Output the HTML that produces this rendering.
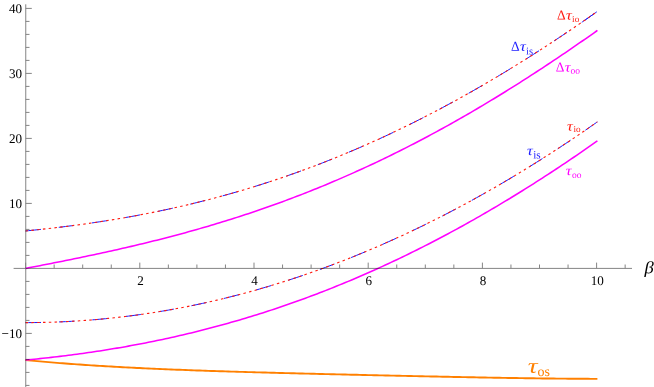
<!DOCTYPE html>
<html><head><meta charset="utf-8"><style>
html,body{margin:0;padding:0;background:#fff;}
svg{display:block;will-change:transform;font-family:"Liberation Serif",serif;}
</style></head><body>
<svg width="654" height="387" viewBox="0 0 654 387">
<rect width="654" height="387" fill="#fff"/>
<path d="M25.60 360.06 L28.46 360.34 L31.31 360.61 L34.17 360.88 L37.02 361.14 L39.88 361.40 L42.73 361.65 L45.59 361.90 L48.44 362.14 L51.30 362.38 L54.15 362.62 L57.01 362.85 L59.86 363.08 L62.72 363.30 L65.57 363.52 L68.43 363.74 L71.28 363.95 L74.14 364.16 L76.99 364.36 L79.84 364.56 L82.70 364.76 L85.56 364.95 L88.41 365.14 L91.27 365.33 L94.12 365.52 L96.97 365.70 L99.83 365.88 L102.69 366.05 L105.54 366.22 L108.40 366.39 L111.25 366.56 L114.11 366.72 L116.96 366.88 L119.81 367.04 L122.67 367.19 L125.53 367.35 L128.38 367.50 L131.24 367.64 L134.09 367.79 L136.95 367.93 L139.80 368.07 L142.66 368.21 L145.51 368.34 L148.37 368.48 L151.22 368.61 L154.07 368.74 L156.93 368.86 L159.78 368.99 L162.64 369.11 L165.50 369.23 L168.35 369.35 L171.21 369.47 L174.06 369.58 L176.92 369.70 L179.77 369.81 L182.62 369.92 L185.48 370.03 L188.34 370.13 L191.19 370.24 L194.05 370.34 L196.90 370.45 L199.76 370.55 L202.61 370.65 L205.47 370.75 L208.32 370.84 L211.18 370.94 L214.03 371.03 L216.88 371.13 L219.74 371.22 L222.59 371.31 L225.45 371.40 L228.31 371.49 L231.16 371.58 L234.02 371.67 L236.87 371.75 L239.72 371.84 L242.58 371.92 L245.44 372.00 L248.29 372.09 L251.15 372.17 L254.00 372.25 L256.86 372.33 L259.71 372.41 L262.57 372.49 L265.42 372.57 L268.28 372.64 L271.13 372.72 L273.99 372.80 L276.84 372.87 L279.70 372.95 L282.55 373.02 L285.41 373.09 L288.26 373.17 L291.12 373.24 L293.97 373.31 L296.83 373.38 L299.68 373.46 L302.54 373.53 L305.39 373.60 L308.25 373.67 L311.10 373.74 L313.96 373.81 L316.81 373.88 L319.67 373.95 L322.52 374.01 L325.38 374.08 L328.23 374.15 L331.09 374.22 L333.94 374.29 L336.80 374.35 L339.65 374.42 L342.51 374.49 L345.36 374.55 L348.22 374.62 L351.07 374.68 L353.93 374.75 L356.78 374.82 L359.64 374.88 L362.49 374.95 L365.35 375.01 L368.20 375.08 L371.06 375.14 L373.91 375.21 L376.77 375.27 L379.62 375.33 L382.48 375.40 L385.33 375.46 L388.19 375.53 L391.04 375.59 L393.90 375.65 L396.75 375.71 L399.61 375.78 L402.46 375.84 L405.32 375.90 L408.17 375.97 L411.03 376.03 L413.88 376.09 L416.74 376.15 L419.59 376.21 L422.45 376.27 L425.30 376.33 L428.16 376.39 L431.01 376.45 L433.87 376.51 L436.72 376.57 L439.58 376.63 L442.43 376.69 L445.29 376.75 L448.14 376.81 L451.00 376.87 L453.85 376.93 L456.71 376.98 L459.56 377.04 L462.42 377.10 L465.27 377.15 L468.13 377.21 L470.98 377.27 L473.84 377.32 L476.69 377.37 L479.55 377.43 L482.40 377.48 L485.26 377.53 L488.11 377.59 L490.97 377.64 L493.82 377.69 L496.68 377.74 L499.53 377.79 L502.38 377.84 L505.24 377.88 L508.10 377.93 L510.95 377.98 L513.81 378.02 L516.66 378.07 L519.51 378.11 L522.37 378.16 L525.23 378.20 L528.08 378.24 L530.93 378.28 L533.79 378.32 L536.65 378.36 L539.50 378.39 L542.36 378.43 L545.21 378.46 L548.07 378.50 L550.92 378.53 L553.78 378.56 L556.63 378.59 L559.49 378.62 L562.34 378.65 L565.20 378.67 L568.05 378.70 L570.91 378.72 L573.76 378.74 L576.62 378.76 L579.47 378.78 L582.33 378.79 L585.18 378.81 L588.04 378.82 L590.89 378.83 L593.75 378.84 L596.60 378.85 L597.40 378.85" fill="none" stroke="#ff8000" stroke-width="1.9"/>
<path d="M25.60 360.07 L28.46 359.79 L31.31 359.51 L34.17 359.23 L37.02 358.94 L39.88 358.64 L42.73 358.34 L45.59 358.03 L48.44 357.71 L51.30 357.39 L54.15 357.06 L57.01 356.72 L59.86 356.38 L62.72 356.04 L65.57 355.68 L68.43 355.32 L71.28 354.95 L74.14 354.58 L76.99 354.20 L79.84 353.81 L82.70 353.41 L85.56 353.01 L88.41 352.60 L91.27 352.19 L94.12 351.77 L96.97 351.34 L99.83 350.90 L102.69 350.46 L105.54 350.00 L108.40 349.55 L111.25 349.08 L114.11 348.61 L116.96 348.13 L119.81 347.64 L122.67 347.14 L125.53 346.64 L128.38 346.13 L131.24 345.61 L134.09 345.08 L136.95 344.55 L139.80 344.01 L142.66 343.46 L145.51 342.90 L148.37 342.34 L151.22 341.77 L154.07 341.18 L156.93 340.60 L159.78 340.00 L162.64 339.39 L165.50 338.78 L168.35 338.16 L171.21 337.53 L174.06 336.89 L176.92 336.25 L179.77 335.59 L182.62 334.93 L185.48 334.26 L188.34 333.58 L191.19 332.90 L194.05 332.20 L196.90 331.50 L199.76 330.78 L202.61 330.06 L205.47 329.33 L208.32 328.59 L211.18 327.85 L214.03 327.09 L216.88 326.33 L219.74 325.55 L222.59 324.77 L225.45 323.98 L228.31 323.18 L231.16 322.37 L234.02 321.56 L236.87 320.73 L239.72 319.90 L242.58 319.05 L245.44 318.20 L248.29 317.34 L251.15 316.47 L254.00 315.59 L256.86 314.70 L259.71 313.80 L262.57 312.89 L265.42 311.98 L268.28 311.05 L271.13 310.12 L273.99 309.17 L276.84 308.22 L279.70 307.26 L282.55 306.29 L285.41 305.31 L288.26 304.32 L291.12 303.32 L293.97 302.31 L296.83 301.29 L299.68 300.27 L302.54 299.23 L305.39 298.18 L308.25 297.13 L311.10 296.06 L313.96 294.99 L316.81 293.91 L319.67 292.81 L322.52 291.71 L325.38 290.60 L328.23 289.48 L331.09 288.35 L333.94 287.21 L336.80 286.06 L339.65 284.90 L342.51 283.73 L345.36 282.55 L348.22 281.36 L351.07 280.17 L353.93 278.96 L356.78 277.74 L359.64 276.52 L362.49 275.28 L365.35 274.03 L368.20 272.78 L371.06 271.51 L373.91 270.24 L376.77 268.96 L379.62 267.66 L382.48 266.36 L385.33 265.05 L388.19 263.72 L391.04 262.39 L393.90 261.05 L396.75 259.70 L399.61 258.34 L402.46 256.97 L405.32 255.59 L408.17 254.20 L411.03 252.80 L413.88 251.39 L416.74 249.97 L419.59 248.54 L422.45 247.10 L425.30 245.65 L428.16 244.19 L431.01 242.73 L433.87 241.25 L436.72 239.76 L439.58 238.27 L442.43 236.76 L445.29 235.25 L448.14 233.72 L451.00 232.19 L453.85 230.64 L456.71 229.09 L459.56 227.52 L462.42 225.95 L465.27 224.37 L468.13 222.78 L470.98 221.17 L473.84 219.56 L476.69 217.94 L479.55 216.31 L482.40 214.67 L485.26 213.02 L488.11 211.36 L490.97 209.70 L493.82 208.02 L496.68 206.33 L499.53 204.63 L502.38 202.93 L505.24 201.21 L508.10 199.49 L510.95 197.75 L513.81 196.01 L516.66 194.26 L519.51 192.49 L522.37 190.72 L525.23 188.94 L528.08 187.15 L530.93 185.35 L533.79 183.54 L536.65 181.72 L539.50 179.90 L542.36 178.06 L545.21 176.21 L548.07 174.36 L550.92 172.50 L553.78 170.62 L556.63 168.74 L559.49 166.85 L562.34 164.95 L565.20 163.04 L568.05 161.12 L570.91 159.20 L573.76 157.26 L576.62 155.31 L579.47 153.36 L582.33 151.40 L585.18 149.43 L588.04 147.45 L590.89 145.46 L593.75 143.46 L596.60 141.45 L597.42 140.88" fill="none" stroke="#ff00ff" stroke-width="1.55"/>
<path d="M25.60 268.40 L28.46 267.85 L31.31 267.30 L34.17 266.75 L37.02 266.20 L39.88 265.64 L42.73 265.09 L45.59 264.53 L48.44 263.97 L51.30 263.41 L54.15 262.84 L57.01 262.28 L59.86 261.71 L62.72 261.14 L65.57 260.56 L68.43 259.98 L71.28 259.40 L74.14 258.82 L76.99 258.24 L79.84 257.65 L82.70 257.05 L85.56 256.46 L88.41 255.86 L91.27 255.26 L94.12 254.65 L96.97 254.04 L99.83 253.42 L102.69 252.80 L105.54 252.18 L108.40 251.55 L111.25 250.92 L114.11 250.29 L116.96 249.64 L119.81 249.00 L122.67 248.35 L125.53 247.69 L128.38 247.03 L131.24 246.37 L134.09 245.70 L136.95 245.02 L139.80 244.34 L142.66 243.65 L145.51 242.96 L148.37 242.26 L151.22 241.56 L154.07 240.85 L156.93 240.13 L159.78 239.41 L162.64 238.68 L165.50 237.95 L168.35 237.21 L171.21 236.46 L174.06 235.71 L176.92 234.95 L179.77 234.19 L182.62 233.41 L185.48 232.63 L188.34 231.85 L191.19 231.05 L194.05 230.26 L196.90 229.45 L199.76 228.63 L202.61 227.81 L205.47 226.98 L208.32 226.15 L211.18 225.31 L214.03 224.46 L216.88 223.60 L219.74 222.73 L222.59 221.86 L225.45 220.98 L228.31 220.09 L231.16 219.19 L234.02 218.29 L236.87 217.38 L239.72 216.46 L242.58 215.53 L245.44 214.59 L248.29 213.65 L251.15 212.70 L254.00 211.74 L256.86 210.77 L259.71 209.79 L262.57 208.81 L265.42 207.81 L268.28 206.81 L271.13 205.80 L273.99 204.78 L276.84 203.75 L279.70 202.71 L282.55 201.67 L285.41 200.61 L288.26 199.55 L291.12 198.48 L293.97 197.40 L296.83 196.31 L299.68 195.21 L302.54 194.10 L305.39 192.99 L308.25 191.86 L311.10 190.73 L313.96 189.58 L316.81 188.43 L319.67 187.27 L322.52 186.10 L325.38 184.92 L328.23 183.73 L331.09 182.53 L333.94 181.32 L336.80 180.11 L339.65 178.88 L342.51 177.64 L345.36 176.40 L348.22 175.14 L351.07 173.88 L353.93 172.61 L356.78 171.33 L359.64 170.03 L362.49 168.73 L365.35 167.42 L368.20 166.10 L371.06 164.77 L373.91 163.43 L376.77 162.09 L379.62 160.73 L382.48 159.36 L385.33 157.98 L388.19 156.60 L391.04 155.20 L393.90 153.80 L396.75 152.38 L399.61 150.96 L402.46 149.53 L405.32 148.08 L408.17 146.63 L411.03 145.17 L413.88 143.70 L416.74 142.22 L419.59 140.73 L422.45 139.23 L425.30 137.72 L428.16 136.20 L431.01 134.67 L433.87 133.14 L436.72 131.59 L439.58 130.03 L442.43 128.47 L445.29 126.89 L448.14 125.31 L451.00 123.72 L453.85 122.12 L456.71 120.50 L459.56 118.88 L462.42 117.25 L465.27 115.61 L468.13 113.97 L470.98 112.31 L473.84 110.64 L476.69 108.97 L479.55 107.28 L482.40 105.59 L485.26 103.89 L488.11 102.18 L490.97 100.46 L493.82 98.73 L496.68 96.99 L499.53 95.25 L502.38 93.49 L505.24 91.73 L508.10 89.96 L510.95 88.17 L513.81 86.39 L516.66 84.59 L519.51 82.78 L522.37 80.97 L525.23 79.14 L528.08 77.31 L530.93 75.47 L533.79 73.62 L536.65 71.77 L539.50 69.90 L542.36 68.03 L545.21 66.15 L548.07 64.26 L550.92 62.37 L553.78 60.46 L556.63 58.55 L559.49 56.63 L562.34 54.70 L565.20 52.77 L568.05 50.83 L570.91 48.88 L573.76 46.92 L576.62 44.95 L579.47 42.98 L582.33 41.00 L585.18 39.02 L588.04 37.02 L590.89 35.02 L593.75 33.02 L596.60 31.00 L597.42 30.43" fill="none" stroke="#ff00ff" stroke-width="1.55"/>
<path d="M25.60 322.61 L28.46 322.60 L31.31 322.59 L34.17 322.56 L37.02 322.53 L39.88 322.48 L42.73 322.43 L45.59 322.36 L48.44 322.29 L51.30 322.20 L54.15 322.11 L57.01 322.00 L59.86 321.89 L62.72 321.76 L65.57 321.63 L68.43 321.48 L71.28 321.33 L74.14 321.16 L76.99 320.99 L79.84 320.80 L82.70 320.61 L85.56 320.40 L88.41 320.19 L91.27 319.96 L94.12 319.73 L96.97 319.48 L99.83 319.23 L102.69 318.96 L105.54 318.69 L108.40 318.40 L111.25 318.11 L114.11 317.80 L116.96 317.48 L119.81 317.16 L122.67 316.82 L125.53 316.48 L128.38 316.12 L131.24 315.76 L134.09 315.38 L136.95 315.00 L139.80 314.60 L142.66 314.20 L145.51 313.78 L148.37 313.36 L151.22 312.92 L154.07 312.47 L156.93 312.02 L159.78 311.55 L162.64 311.08 L165.50 310.59 L168.35 310.10 L171.21 309.59 L174.06 309.08 L176.92 308.55 L179.77 308.02 L182.62 307.47 L185.48 306.91 L188.34 306.35 L191.19 305.77 L194.05 305.19 L196.90 304.59 L199.76 303.99 L202.61 303.37 L205.47 302.75 L208.32 302.11 L211.18 301.46 L214.03 300.81 L216.88 300.14 L219.74 299.47 L222.59 298.78 L225.45 298.09 L228.31 297.38 L231.16 296.66 L234.02 295.94 L236.87 295.20 L239.72 294.46 L242.58 293.70 L245.44 292.94 L248.29 292.16 L251.15 291.37 L254.00 290.58 L256.86 289.77 L259.71 288.96 L262.57 288.13 L265.42 287.29 L268.28 286.45 L271.13 285.59 L273.99 284.73 L276.84 283.85 L279.70 282.97 L282.55 282.07 L285.41 281.16 L288.26 280.25 L291.12 279.32 L293.97 278.39 L296.83 277.44 L299.68 276.48 L302.54 275.52 L305.39 274.54 L308.25 273.56 L311.10 272.56 L313.96 271.55 L316.81 270.54 L319.67 269.51 L322.52 268.48 L325.38 267.43 L328.23 266.37 L331.09 265.31 L333.94 264.23 L336.80 263.15 L339.65 262.05 L342.51 260.94 L345.36 259.83 L348.22 258.70 L351.07 257.57 L353.93 256.42 L356.78 255.26 L359.64 254.10 L362.49 252.92 L365.35 251.73 L368.20 250.54 L371.06 249.33 L373.91 248.12 L376.77 246.89 L379.62 245.65 L382.48 244.41 L385.33 243.15 L388.19 241.88 L391.04 240.61 L393.90 239.32 L396.75 238.03 L399.61 236.72 L402.46 235.40 L405.32 234.08 L408.17 232.74 L411.03 231.39 L413.88 230.04 L416.74 228.67 L419.59 227.29 L422.45 225.91 L425.30 224.51 L428.16 223.11 L431.01 221.69 L433.87 220.26 L436.72 218.83 L439.58 217.38 L442.43 215.92 L445.29 214.46 L448.14 212.98 L451.00 211.49 L453.85 210.00 L456.71 208.49 L459.56 206.97 L462.42 205.45 L465.27 203.91 L468.13 202.36 L470.98 200.81 L473.84 199.24 L476.69 197.67 L479.55 196.08 L482.40 194.48 L485.26 192.88 L488.11 191.26 L490.97 189.63 L493.82 188.00 L496.68 186.35 L499.53 184.69 L502.38 183.03 L505.24 181.35 L508.10 179.66 L510.95 177.97 L513.81 176.26 L516.66 174.54 L519.51 172.82 L522.37 171.08 L525.23 169.33 L528.08 167.58 L530.93 165.81 L533.79 164.03 L536.65 162.24 L539.50 160.45 L542.36 158.64 L545.21 156.82 L548.07 155.00 L550.92 153.16 L553.78 151.31 L556.63 149.46 L559.49 147.59 L562.34 145.71 L565.20 143.83 L568.05 141.93 L570.91 140.02 L573.76 138.11 L576.62 136.18 L579.47 134.24 L582.33 132.29 L585.18 130.34 L588.04 128.37 L590.89 126.39 L593.75 124.41 L596.60 122.41 L597.34 121.89" fill="none" stroke="#1a1aff" stroke-width="1.0" stroke-dasharray="15.4 18.0"/>
<path d="M25.60 322.61 L28.46 322.60 L31.31 322.59 L34.17 322.56 L37.02 322.53 L39.88 322.48 L42.73 322.43 L45.59 322.36 L48.44 322.29 L51.30 322.20 L54.15 322.11 L57.01 322.00 L59.86 321.89 L62.72 321.76 L65.57 321.63 L68.43 321.48 L71.28 321.33 L74.14 321.16 L76.99 320.99 L79.84 320.80 L82.70 320.61 L85.56 320.40 L88.41 320.19 L91.27 319.96 L94.12 319.73 L96.97 319.48 L99.83 319.23 L102.69 318.96 L105.54 318.69 L108.40 318.40 L111.25 318.11 L114.11 317.80 L116.96 317.48 L119.81 317.16 L122.67 316.82 L125.53 316.48 L128.38 316.12 L131.24 315.76 L134.09 315.38 L136.95 315.00 L139.80 314.60 L142.66 314.20 L145.51 313.78 L148.37 313.36 L151.22 312.92 L154.07 312.47 L156.93 312.02 L159.78 311.55 L162.64 311.08 L165.50 310.59 L168.35 310.10 L171.21 309.59 L174.06 309.08 L176.92 308.55 L179.77 308.02 L182.62 307.47 L185.48 306.91 L188.34 306.35 L191.19 305.77 L194.05 305.19 L196.90 304.59 L199.76 303.99 L202.61 303.37 L205.47 302.75 L208.32 302.11 L211.18 301.46 L214.03 300.81 L216.88 300.14 L219.74 299.47 L222.59 298.78 L225.45 298.09 L228.31 297.38 L231.16 296.66 L234.02 295.94 L236.87 295.20 L239.72 294.46 L242.58 293.70 L245.44 292.94 L248.29 292.16 L251.15 291.37 L254.00 290.58 L256.86 289.77 L259.71 288.96 L262.57 288.13 L265.42 287.29 L268.28 286.45 L271.13 285.59 L273.99 284.73 L276.84 283.85 L279.70 282.97 L282.55 282.07 L285.41 281.16 L288.26 280.25 L291.12 279.32 L293.97 278.39 L296.83 277.44 L299.68 276.48 L302.54 275.52 L305.39 274.54 L308.25 273.56 L311.10 272.56 L313.96 271.55 L316.81 270.54 L319.67 269.51 L322.52 268.48 L325.38 267.43 L328.23 266.37 L331.09 265.31 L333.94 264.23 L336.80 263.15 L339.65 262.05 L342.51 260.94 L345.36 259.83 L348.22 258.70 L351.07 257.57 L353.93 256.42 L356.78 255.26 L359.64 254.10 L362.49 252.92 L365.35 251.73 L368.20 250.54 L371.06 249.33 L373.91 248.12 L376.77 246.89 L379.62 245.65 L382.48 244.41 L385.33 243.15 L388.19 241.88 L391.04 240.61 L393.90 239.32 L396.75 238.03 L399.61 236.72 L402.46 235.40 L405.32 234.08 L408.17 232.74 L411.03 231.39 L413.88 230.04 L416.74 228.67 L419.59 227.29 L422.45 225.91 L425.30 224.51 L428.16 223.11 L431.01 221.69 L433.87 220.26 L436.72 218.83 L439.58 217.38 L442.43 215.92 L445.29 214.46 L448.14 212.98 L451.00 211.49 L453.85 210.00 L456.71 208.49 L459.56 206.97 L462.42 205.45 L465.27 203.91 L468.13 202.36 L470.98 200.81 L473.84 199.24 L476.69 197.67 L479.55 196.08 L482.40 194.48 L485.26 192.88 L488.11 191.26 L490.97 189.63 L493.82 188.00 L496.68 186.35 L499.53 184.69 L502.38 183.03 L505.24 181.35 L508.10 179.66 L510.95 177.97 L513.81 176.26 L516.66 174.54 L519.51 172.82 L522.37 171.08 L525.23 169.33 L528.08 167.58 L530.93 165.81 L533.79 164.03 L536.65 162.24 L539.50 160.45 L542.36 158.64 L545.21 156.82 L548.07 155.00 L550.92 153.16 L553.78 151.31 L556.63 149.46 L559.49 147.59 L562.34 145.71 L565.20 143.83 L568.05 141.93 L570.91 140.02 L573.76 138.11 L576.62 136.18 L579.47 134.24 L582.33 132.29 L585.18 130.34 L588.04 128.37 L590.89 126.39 L593.75 124.41 L596.60 122.41 L597.34 121.89" fill="none" stroke="#ff1a10" stroke-width="1.1" stroke-dasharray="2.5 3.3"/>
<path d="M25.60 230.95 L28.46 230.67 L31.31 230.38 L34.17 230.09 L37.02 229.79 L39.88 229.49 L42.73 229.18 L45.59 228.87 L48.44 228.55 L51.30 228.22 L54.15 227.89 L57.01 227.56 L59.86 227.21 L62.72 226.86 L65.57 226.51 L68.43 226.15 L71.28 225.78 L74.14 225.41 L76.99 225.03 L79.84 224.64 L82.70 224.25 L85.56 223.85 L88.41 223.44 L91.27 223.03 L94.12 222.61 L96.97 222.18 L99.83 221.75 L102.69 221.31 L105.54 220.86 L108.40 220.41 L111.25 219.95 L114.11 219.48 L116.96 219.00 L119.81 218.52 L122.67 218.03 L125.53 217.53 L128.38 217.03 L131.24 216.52 L134.09 216.00 L136.95 215.47 L139.80 214.93 L142.66 214.39 L145.51 213.84 L148.37 213.28 L151.22 212.71 L154.07 212.14 L156.93 211.56 L159.78 210.97 L162.64 210.37 L165.50 209.76 L168.35 209.15 L171.21 208.52 L174.06 207.89 L176.92 207.25 L179.77 206.61 L182.62 205.95 L185.48 205.29 L188.34 204.61 L191.19 203.93 L194.05 203.24 L196.90 202.54 L199.76 201.84 L202.61 201.12 L205.47 200.40 L208.32 199.67 L211.18 198.92 L214.03 198.17 L216.88 197.41 L219.74 196.65 L222.59 195.87 L225.45 195.08 L228.31 194.29 L231.16 193.49 L234.02 192.67 L236.87 191.85 L239.72 191.02 L242.58 190.18 L245.44 189.33 L248.29 188.47 L251.15 187.61 L254.00 186.73 L256.86 185.84 L259.71 184.95 L262.57 184.04 L265.42 183.13 L268.28 182.21 L271.13 181.27 L273.99 180.33 L276.84 179.38 L279.70 178.42 L282.55 177.45 L285.41 176.47 L288.26 175.48 L291.12 174.48 L293.97 173.47 L296.83 172.46 L299.68 171.43 L302.54 170.39 L305.39 169.34 L308.25 168.29 L311.10 167.22 L313.96 166.15 L316.81 165.06 L319.67 163.97 L322.52 162.86 L325.38 161.75 L328.23 160.62 L331.09 159.49 L333.94 158.35 L336.80 157.19 L339.65 156.03 L342.51 154.86 L345.36 153.67 L348.22 152.48 L351.07 151.28 L353.93 150.07 L356.78 148.85 L359.64 147.61 L362.49 146.37 L365.35 145.12 L368.20 143.86 L371.06 142.59 L373.91 141.31 L376.77 140.02 L379.62 138.72 L382.48 137.41 L385.33 136.09 L388.19 134.76 L391.04 133.42 L393.90 132.07 L396.75 130.71 L399.61 129.34 L402.46 127.96 L405.32 126.57 L408.17 125.18 L411.03 123.77 L413.88 122.35 L416.74 120.92 L419.59 119.48 L422.45 118.04 L425.30 116.58 L428.16 115.11 L431.01 113.63 L433.87 112.15 L436.72 110.65 L439.58 109.15 L442.43 107.63 L445.29 106.10 L448.14 104.57 L451.00 103.03 L453.85 101.47 L456.71 99.91 L459.56 98.33 L462.42 96.75 L465.27 95.16 L468.13 93.56 L470.98 91.94 L473.84 90.32 L476.69 88.69 L479.55 87.05 L482.40 85.40 L485.26 83.74 L488.11 82.07 L490.97 80.39 L493.82 78.71 L496.68 77.01 L499.53 75.30 L502.38 73.59 L505.24 71.86 L508.10 70.13 L510.95 68.39 L513.81 66.63 L516.66 64.87 L519.51 63.10 L522.37 61.32 L525.23 59.53 L528.08 57.74 L530.93 55.93 L533.79 54.11 L536.65 52.29 L539.50 50.45 L542.36 48.61 L545.21 46.76 L548.07 44.90 L550.92 43.03 L553.78 41.15 L556.63 39.27 L559.49 37.37 L562.34 35.47 L565.20 33.55 L568.05 31.63 L570.91 29.70 L573.76 27.77 L576.62 25.82 L579.47 23.86 L582.33 21.90 L585.18 19.93 L588.04 17.95 L590.89 15.96 L593.75 13.96 L596.60 11.96 L597.34 11.44" fill="none" stroke="#1a1aff" stroke-width="1.0" stroke-dasharray="15.4 18.0"/>
<path d="M585.18 19.93 L586.61 18.94 L588.04 17.95 L589.46 16.96 L590.89 15.96 L592.32 14.96 L593.75 13.96 L595.17 12.96 L596.60 11.96 L596.85 11.79" fill="none" stroke="#1a1aff" stroke-width="1.0"/>
<path d="M25.60 230.95 L28.46 230.67 L31.31 230.38 L34.17 230.09 L37.02 229.79 L39.88 229.49 L42.73 229.18 L45.59 228.87 L48.44 228.55 L51.30 228.22 L54.15 227.89 L57.01 227.56 L59.86 227.21 L62.72 226.86 L65.57 226.51 L68.43 226.15 L71.28 225.78 L74.14 225.41 L76.99 225.03 L79.84 224.64 L82.70 224.25 L85.56 223.85 L88.41 223.44 L91.27 223.03 L94.12 222.61 L96.97 222.18 L99.83 221.75 L102.69 221.31 L105.54 220.86 L108.40 220.41 L111.25 219.95 L114.11 219.48 L116.96 219.00 L119.81 218.52 L122.67 218.03 L125.53 217.53 L128.38 217.03 L131.24 216.52 L134.09 216.00 L136.95 215.47 L139.80 214.93 L142.66 214.39 L145.51 213.84 L148.37 213.28 L151.22 212.71 L154.07 212.14 L156.93 211.56 L159.78 210.97 L162.64 210.37 L165.50 209.76 L168.35 209.15 L171.21 208.52 L174.06 207.89 L176.92 207.25 L179.77 206.61 L182.62 205.95 L185.48 205.29 L188.34 204.61 L191.19 203.93 L194.05 203.24 L196.90 202.54 L199.76 201.84 L202.61 201.12 L205.47 200.40 L208.32 199.67 L211.18 198.92 L214.03 198.17 L216.88 197.41 L219.74 196.65 L222.59 195.87 L225.45 195.08 L228.31 194.29 L231.16 193.49 L234.02 192.67 L236.87 191.85 L239.72 191.02 L242.58 190.18 L245.44 189.33 L248.29 188.47 L251.15 187.61 L254.00 186.73 L256.86 185.84 L259.71 184.95 L262.57 184.04 L265.42 183.13 L268.28 182.21 L271.13 181.27 L273.99 180.33 L276.84 179.38 L279.70 178.42 L282.55 177.45 L285.41 176.47 L288.26 175.48 L291.12 174.48 L293.97 173.47 L296.83 172.46 L299.68 171.43 L302.54 170.39 L305.39 169.34 L308.25 168.29 L311.10 167.22 L313.96 166.15 L316.81 165.06 L319.67 163.97 L322.52 162.86 L325.38 161.75 L328.23 160.62 L331.09 159.49 L333.94 158.35 L336.80 157.19 L339.65 156.03 L342.51 154.86 L345.36 153.67 L348.22 152.48 L351.07 151.28 L353.93 150.07 L356.78 148.85 L359.64 147.61 L362.49 146.37 L365.35 145.12 L368.20 143.86 L371.06 142.59 L373.91 141.31 L376.77 140.02 L379.62 138.72 L382.48 137.41 L385.33 136.09 L388.19 134.76 L391.04 133.42 L393.90 132.07 L396.75 130.71 L399.61 129.34 L402.46 127.96 L405.32 126.57 L408.17 125.18 L411.03 123.77 L413.88 122.35 L416.74 120.92 L419.59 119.48 L422.45 118.04 L425.30 116.58 L428.16 115.11 L431.01 113.63 L433.87 112.15 L436.72 110.65 L439.58 109.15 L442.43 107.63 L445.29 106.10 L448.14 104.57 L451.00 103.03 L453.85 101.47 L456.71 99.91 L459.56 98.33 L462.42 96.75 L465.27 95.16 L468.13 93.56 L470.98 91.94 L473.84 90.32 L476.69 88.69 L479.55 87.05 L482.40 85.40 L485.26 83.74 L488.11 82.07 L490.97 80.39 L493.82 78.71 L496.68 77.01 L499.53 75.30 L502.38 73.59 L505.24 71.86 L508.10 70.13 L510.95 68.39 L513.81 66.63 L516.66 64.87 L519.51 63.10 L522.37 61.32 L525.23 59.53 L528.08 57.74 L530.93 55.93 L533.79 54.11 L536.65 52.29 L539.50 50.45 L542.36 48.61 L545.21 46.76 L548.07 44.90 L550.92 43.03 L553.78 41.15 L556.63 39.27 L559.49 37.37 L562.34 35.47 L565.20 33.55 L568.05 31.63 L570.91 29.70 L573.76 27.77 L576.62 25.82 L579.47 23.86 L582.33 21.90 L585.18 19.93 L588.04 17.95 L590.89 15.96 L593.75 13.96 L596.60 11.96 L597.34 11.44" fill="none" stroke="#ff1a10" stroke-width="1.1" stroke-dasharray="2.5 3.3"/>
<g style="mix-blend-mode:multiply">
<line x1="25.75" y1="4.3" x2="25.75" y2="387" stroke="#858585" stroke-width="1"/>
<line x1="13.6" y1="268.4" x2="632" y2="268.4" stroke="#858585" stroke-width="1"/>
<line x1="25.6" y1="385.40" x2="29.5" y2="385.40" stroke="#858585" stroke-width="1"/>
<line x1="25.6" y1="372.40" x2="29.5" y2="372.40" stroke="#858585" stroke-width="1"/>
<line x1="25.6" y1="359.40" x2="29.5" y2="359.40" stroke="#858585" stroke-width="1"/>
<line x1="25.6" y1="346.40" x2="29.5" y2="346.40" stroke="#858585" stroke-width="1"/>
<line x1="25.6" y1="333.40" x2="31.8" y2="333.40" stroke="#858585" stroke-width="1"/>
<line x1="25.6" y1="320.40" x2="29.5" y2="320.40" stroke="#858585" stroke-width="1"/>
<line x1="25.6" y1="307.40" x2="29.5" y2="307.40" stroke="#858585" stroke-width="1"/>
<line x1="25.6" y1="294.40" x2="29.5" y2="294.40" stroke="#858585" stroke-width="1"/>
<line x1="25.6" y1="281.40" x2="29.5" y2="281.40" stroke="#858585" stroke-width="1"/>
<line x1="25.6" y1="255.40" x2="29.5" y2="255.40" stroke="#858585" stroke-width="1"/>
<line x1="25.6" y1="242.40" x2="29.5" y2="242.40" stroke="#858585" stroke-width="1"/>
<line x1="25.6" y1="229.40" x2="29.5" y2="229.40" stroke="#858585" stroke-width="1"/>
<line x1="25.6" y1="216.40" x2="29.5" y2="216.40" stroke="#858585" stroke-width="1"/>
<line x1="25.6" y1="203.40" x2="31.8" y2="203.40" stroke="#858585" stroke-width="1"/>
<line x1="25.6" y1="190.40" x2="29.5" y2="190.40" stroke="#858585" stroke-width="1"/>
<line x1="25.6" y1="177.40" x2="29.5" y2="177.40" stroke="#858585" stroke-width="1"/>
<line x1="25.6" y1="164.40" x2="29.5" y2="164.40" stroke="#858585" stroke-width="1"/>
<line x1="25.6" y1="151.40" x2="29.5" y2="151.40" stroke="#858585" stroke-width="1"/>
<line x1="25.6" y1="138.40" x2="31.8" y2="138.40" stroke="#858585" stroke-width="1"/>
<line x1="25.6" y1="125.40" x2="29.5" y2="125.40" stroke="#858585" stroke-width="1"/>
<line x1="25.6" y1="112.40" x2="29.5" y2="112.40" stroke="#858585" stroke-width="1"/>
<line x1="25.6" y1="99.40" x2="29.5" y2="99.40" stroke="#858585" stroke-width="1"/>
<line x1="25.6" y1="86.40" x2="29.5" y2="86.40" stroke="#858585" stroke-width="1"/>
<line x1="25.6" y1="73.40" x2="31.8" y2="73.40" stroke="#858585" stroke-width="1"/>
<line x1="25.6" y1="60.40" x2="29.5" y2="60.40" stroke="#858585" stroke-width="1"/>
<line x1="25.6" y1="47.40" x2="29.5" y2="47.40" stroke="#858585" stroke-width="1"/>
<line x1="25.6" y1="34.40" x2="29.5" y2="34.40" stroke="#858585" stroke-width="1"/>
<line x1="25.6" y1="21.40" x2="29.5" y2="21.40" stroke="#858585" stroke-width="1"/>
<line x1="25.6" y1="8.40" x2="31.8" y2="8.40" stroke="#858585" stroke-width="1"/>
<line x1="25.60" y1="268.4" x2="25.60" y2="262.59999999999997" stroke="#858585" stroke-width="1"/>
<line x1="54.15" y1="268.4" x2="54.15" y2="264.5" stroke="#858585" stroke-width="1"/>
<line x1="82.70" y1="268.4" x2="82.70" y2="264.5" stroke="#858585" stroke-width="1"/>
<line x1="111.25" y1="268.4" x2="111.25" y2="264.5" stroke="#858585" stroke-width="1"/>
<line x1="139.80" y1="268.4" x2="139.80" y2="262.59999999999997" stroke="#858585" stroke-width="1"/>
<line x1="168.35" y1="268.4" x2="168.35" y2="264.5" stroke="#858585" stroke-width="1"/>
<line x1="196.90" y1="268.4" x2="196.90" y2="264.5" stroke="#858585" stroke-width="1"/>
<line x1="225.45" y1="268.4" x2="225.45" y2="264.5" stroke="#858585" stroke-width="1"/>
<line x1="254.00" y1="268.4" x2="254.00" y2="262.59999999999997" stroke="#858585" stroke-width="1"/>
<line x1="282.55" y1="268.4" x2="282.55" y2="264.5" stroke="#858585" stroke-width="1"/>
<line x1="311.10" y1="268.4" x2="311.10" y2="264.5" stroke="#858585" stroke-width="1"/>
<line x1="339.65" y1="268.4" x2="339.65" y2="264.5" stroke="#858585" stroke-width="1"/>
<line x1="368.20" y1="268.4" x2="368.20" y2="262.59999999999997" stroke="#858585" stroke-width="1"/>
<line x1="396.75" y1="268.4" x2="396.75" y2="264.5" stroke="#858585" stroke-width="1"/>
<line x1="425.30" y1="268.4" x2="425.30" y2="264.5" stroke="#858585" stroke-width="1"/>
<line x1="453.85" y1="268.4" x2="453.85" y2="264.5" stroke="#858585" stroke-width="1"/>
<line x1="482.40" y1="268.4" x2="482.40" y2="262.59999999999997" stroke="#858585" stroke-width="1"/>
<line x1="510.95" y1="268.4" x2="510.95" y2="264.5" stroke="#858585" stroke-width="1"/>
<line x1="539.50" y1="268.4" x2="539.50" y2="264.5" stroke="#858585" stroke-width="1"/>
<line x1="568.05" y1="268.4" x2="568.05" y2="264.5" stroke="#858585" stroke-width="1"/>
<line x1="596.60" y1="268.4" x2="596.60" y2="262.59999999999997" stroke="#858585" stroke-width="1"/>
<line x1="625.15" y1="268.4" x2="625.15" y2="264.5" stroke="#858585" stroke-width="1"/>
</g>
<text transform="translate(22.1 13.10) rotate(0.05) scale(1 1.01)" text-anchor="end" font-size="13.1">40</text>
<text transform="translate(22.1 78.10) rotate(0.05) scale(1 1.01)" text-anchor="end" font-size="13.1">30</text>
<text transform="translate(22.1 143.10) rotate(0.05) scale(1 1.01)" text-anchor="end" font-size="13.1">20</text>
<text transform="translate(22.1 208.10) rotate(0.05) scale(1 1.01)" text-anchor="end" font-size="13.1">10</text>
<text transform="translate(22.1 338.10) rotate(0.05) scale(1 1.01)" text-anchor="end" font-size="13.1">−10</text>
<text transform="translate(140.40 285.0) rotate(0.05) scale(1 1.01)" text-anchor="middle" font-size="13.1">2</text>
<text transform="translate(254.60 285.0) rotate(0.05) scale(1 1.01)" text-anchor="middle" font-size="13.1">4</text>
<text transform="translate(368.80 285.0) rotate(0.05) scale(1 1.01)" text-anchor="middle" font-size="13.1">6</text>
<text transform="translate(483.00 285.0) rotate(0.05) scale(1 1.01)" text-anchor="middle" font-size="13.1">8</text>
<text transform="translate(597.20 285.0) rotate(0.05) scale(1 1.01)" text-anchor="middle" font-size="13.1">10</text>
<text transform="translate(644.4 273.2) rotate(0.05) scale(1.08 1)" font-size="17.2" font-style="italic">β</text>
<text transform="translate(557.06 19.4) rotate(0.05)" font-size="13.5" fill="#ff1a10">Δ</text><text transform="translate(566.08 19.4) rotate(0.05) scale(1.2 1)" font-size="13.5" font-style="italic" fill="#ff1a10">τ</text><text transform="translate(572.12 21.9) rotate(0.05)" font-size="9.2" fill="#ff1a10">io</text>
<text transform="translate(511.06 50.8) rotate(0.05)" font-size="13.5" fill="#1a1aff">Δ</text><text transform="translate(520.08 50.8) rotate(0.05) scale(1.2 1)" font-size="13.5" font-style="italic" fill="#1a1aff">τ</text><text transform="translate(526.09 54.4) rotate(0.05)" font-size="10.5" fill="#1a1aff">is</text>
<text transform="translate(555.66 71.6) rotate(0.05)" font-size="13.5" fill="#ff00ff">Δ</text><text transform="translate(564.68 71.6) rotate(0.05) scale(1.2 1)" font-size="13.5" font-style="italic" fill="#ff00ff">τ</text><text transform="translate(570.62 73.7) rotate(0.05)" font-size="9.5" fill="#ff00ff">oo</text>
<text transform="translate(566.98 130.4) rotate(0.05) scale(1.2 1)" font-size="13.5" font-style="italic" fill="#ff1a10">τ</text><text transform="translate(573.52 132.1) rotate(0.05)" font-size="9.2" fill="#ff1a10">io</text>
<text transform="translate(526.98 154.9) rotate(0.05) scale(1.2 1)" font-size="13.5" font-style="italic" fill="#1a1aff">τ</text><text transform="translate(533.18 158.5) rotate(0.05)" font-size="11.2" fill="#1a1aff">is</text>
<text transform="translate(565.78 175.1) rotate(0.05) scale(1.2 1)" font-size="13.5" font-style="italic" fill="#ff00ff">τ</text><text transform="translate(572.02 177.9) rotate(0.05)" font-size="9.5" fill="#ff00ff">oo</text>
<text transform="translate(527.85 372.8) rotate(0.05) scale(1.3 1)" font-size="21" font-style="italic" fill="#ff8000">τ</text><text transform="translate(537.44 375.9) rotate(0.05)" font-size="14" fill="#ff8000">os</text>
</svg></body></html>
